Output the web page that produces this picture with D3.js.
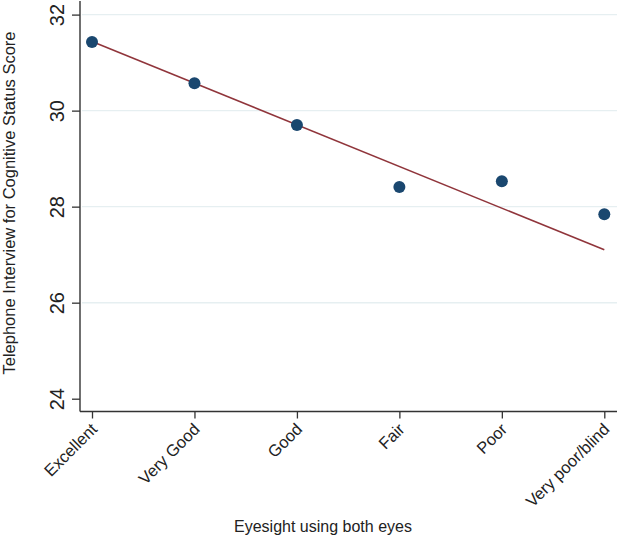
<!DOCTYPE html>
<html>
<head>
<meta charset="utf-8">
<script src="https://cdn.jsdelivr.net/npm/d3@7"></script>
<style>
  body { margin: 0; background: #fff; }
  svg text { font-family: "Liberation Sans", Arial, sans-serif; fill: #222; }
</style>
</head>
<body>
<div class="chart"></div>
<script>
// eyesight categories and mean TICS score
var categories = ["Excellent", "Very Good", "Good", "Fair", "Poor", "Very poor/blind"]
var scores = [31.43, 30.57, 29.70, 28.41, 28.53, 27.84]
// fitted line, value at first and last category
var fitCats = ["Excellent", "Very poor/blind"]
var fitValues = [31.44, 27.10]
var yTicks = [24, 26, 28, 30, 32]
var gridTicks = [26, 28, 30, 32]

var width = 620, height = 539

var svg = d3.select(".chart").append("svg")
    .attr("width", width)
    .attr("height", height)

var x = d3.scalePoint()
    .domain(categories)
    .range([92, 604.3])

var y = d3.scaleLinear()
    .domain([24, 32])
    .range([398.7, 14.6])

var axisX = 80, axisY = 411.5

// grid lines
svg.append("g").selectAll("line")
    .data(gridTicks)
    .enter()
    .append("line")
    .attr("x1", axisX + 2)
    .attr("x2", 617)
    .attr("y1", d => y(d))
    .attr("y2", d => y(d))
    .attr("stroke", "#e6eff1")
    .attr("stroke-width", 1.4)

// fitted line
var fit = fitCats.map((c, i) => ({ cat: c, v: fitValues[i] }))
svg.append("path")
    .datum(fit)
    .attr("d", d3.line().x(d => x(d.cat)).y(d => y(d.v)))
    .attr("stroke", "#90353b")
    .attr("stroke-width", 1.6)
    .attr("fill", "none")

// points
svg.append("g").selectAll("circle")
    .data(categories)
    .enter()
    .append("circle")
    .attr("cx", d => x(d))
    .attr("cy", (d, i) => y(scores[i]))
    .attr("r", 6)
    .attr("fill", "#1a476f")

// y axis
var gy = svg.append("g")
    .attr("transform", `translate(${axisX},0)`)
    .call(d3.axisLeft(y).tickValues(yTicks).tickSize(8).tickFormat(d3.format("d")))
gy.select(".domain").remove()
gy.selectAll(".tick line").attr("stroke", "#333").attr("stroke-width", 1.3)
gy.selectAll(".tick text")
    .attr("font-size", "20px")
    .attr("text-anchor", "middle")
    .attr("x", null)
    .attr("dy", null)
    .attr("transform", "translate(-16,0) rotate(-90)")

// x axis
var gx = svg.append("g")
    .attr("transform", `translate(0,${axisY})`)
    .call(d3.axisBottom(x).tickSize(7))
gx.select(".domain").remove()
gx.selectAll(".tick line").attr("stroke", "#333").attr("stroke-width", 1.3)
gx.selectAll(".tick text")
    .attr("font-size", "16.5px")
    .attr("text-anchor", "end")
    .attr("y", null)
    .attr("dy", "0.75em")
    .attr("transform", "translate(-3,10) rotate(-45)")

// axis lines
svg.append("line")
    .attr("x1", axisX).attr("x2", axisX)
    .attr("y1", 1).attr("y2", axisY)
    .attr("stroke", "#333").attr("stroke-width", 1.4)
svg.append("line")
    .attr("x1", axisX).attr("x2", 617)
    .attr("y1", axisY).attr("y2", axisY)
    .attr("stroke", "#333").attr("stroke-width", 1.4)

// titles
svg.append("text")
    .attr("transform", "translate(15,203) rotate(-90)")
    .attr("text-anchor", "middle")
    .attr("font-size", "16.5px")
    .text("Telephone Interview for Cognitive Status Score")

svg.append("text")
    .attr("x", 323)
    .attr("y", 532)
    .attr("text-anchor", "middle")
    .attr("font-size", "16px")
    .text("Eyesight using both eyes")
</script>
</body>
</html>
